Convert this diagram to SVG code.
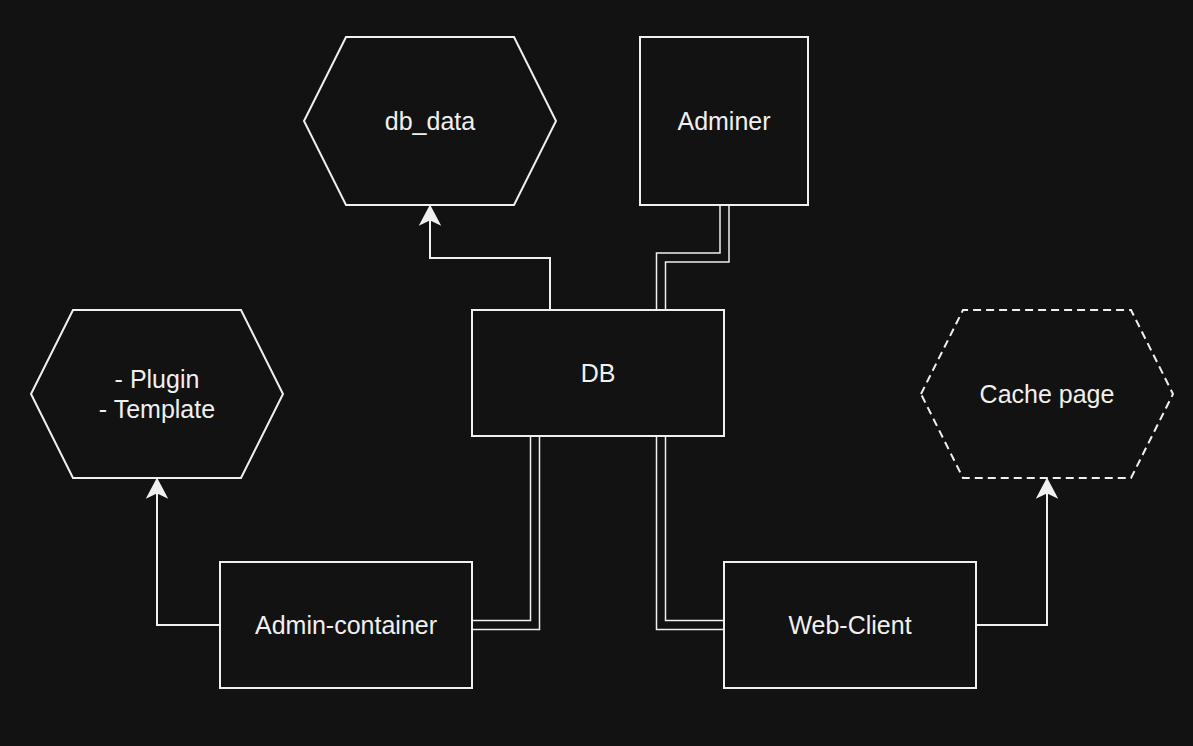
<svg xmlns="http://www.w3.org/2000/svg" width="1193" height="746" viewBox="0 0 1193 746">
<style>
.shape{fill:#121212;stroke:#f0f0f0;stroke-width:2}
.dashed{stroke-dasharray:8 5}
.lbl{font-family:"Liberation Sans",Arial,sans-serif;font-size:25px;fill:#f0f0f0;text-anchor:middle}
.edge{fill:none;stroke:#f0f0f0;stroke-width:2}
.linkO{fill:none;stroke:#f0f0f0;stroke-width:10.5}
.linkI{fill:none;stroke:#121212;stroke-width:7.5}
.head{fill:#f0f0f0;stroke:#f0f0f0;stroke-width:1.5}
</style>
<rect x="0" y="0" width="1193" height="746" fill="#121212"/>
<g id="connectors">
  <path class="edge" d="M550 310 V258 H430 V220"/>
  <path class="head" d="M430 206 L439.5 224 L430 219.5 L420.5 224 Z"/>
  <path class="edge" d="M220 625 H157 V493"/>
  <path class="head" d="M157 479 L166.5 497 L157 492.5 L147.5 497 Z"/>
  <path class="edge" d="M976 625 H1047 V493"/>
  <path class="head" d="M1047 479 L1056.5 497 L1047 492.5 L1037.5 497 Z"/>
  <path class="linkO" d="M724.5 206 V257.5 H661 V309"/>
  <path class="linkI" d="M724.5 205 V257.5 H661 V310"/>
  <path class="linkO" d="M535 437 V625 H473"/>
  <path class="linkI" d="M535 436 V625 H472"/>
  <path class="linkO" d="M661 437 V625 H723"/>
  <path class="linkI" d="M661 436 V625 H724"/>
</g>
<g id="db_data">
  <polygon class="shape" points="304,121 346,37 514,37 556,121 514,205 346,205"/>
  <text class="lbl" x="430" y="130">db_data</text>
</g>
<g id="adminer">
  <rect class="shape" x="640" y="37" width="168" height="168"/>
  <text class="lbl" x="724" y="130">Adminer</text>
</g>
<g id="db">
  <rect class="shape" x="472" y="310" width="252" height="126"/>
  <text class="lbl" x="598" y="382">DB</text>
</g>
<g id="plugin">
  <polygon class="shape" points="31,394 73,310 241,310 283,394 241,478 73,478"/>
  <text class="lbl" x="157" y="388">- Plugin</text>
  <text class="lbl" x="157" y="418">- Template</text>
</g>
<g id="cache">
  <polygon class="shape dashed" points="921,394 963,310 1131,310 1173,394 1131,478 963,478"/>
  <text class="lbl" x="1047" y="403">Cache page</text>
</g>
<g id="admin_container">
  <rect class="shape" x="220" y="562" width="252" height="126"/>
  <text class="lbl" x="346" y="634">Admin-container</text>
</g>
<g id="web_client">
  <rect class="shape" x="724" y="562" width="252" height="126"/>
  <text class="lbl" x="850" y="634">Web-Client</text>
</g>
</svg>
